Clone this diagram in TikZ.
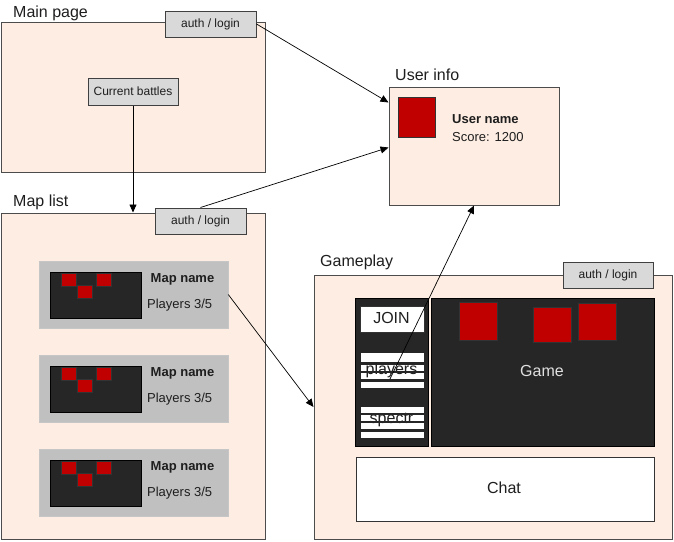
\documentclass[tikz,border=0pt]{standalone}
\usepackage{fontspec}
\setmainfont{Liberation Sans}
\usetikzlibrary{arrows.meta,calc}
\definecolor{peach}{RGB}{253,237,226}
\definecolor{authgray}{RGB}{217,217,217}
\definecolor{itemgray}{RGB}{192,192,192}
\definecolor{darkpanel}{RGB}{38,38,38}
\definecolor{redsq}{RGB}{192,0,0}
\definecolor{txt}{RGB}{30,30,30}
\begin{document}
\begin{tikzpicture}[x=1pt,y=-1pt,
  frame/.style={rectangle,draw=black!70,line width=1pt,fill=peach,inner sep=0},
  authbox/.style={rectangle,draw=black!75,line width=1pt,fill=authgray,inner sep=0,
    minimum width=91pt,minimum height=26pt,font=\fontsize{12}{14}\selectfont,text=txt},
  itembox/.style={rectangle,fill=itemgray,draw=itemgray!90!white,line width=0.5pt,inner sep=0,minimum width=189pt,minimum height=67pt},
  darkbox/.style={rectangle,fill=darkpanel,draw=black,line width=0.8pt,inner sep=0},
  redbox/.style={rectangle,fill=redsq,draw=black!80,line width=0.7pt,inner sep=0},
  whitebox/.style={rectangle,fill=white,draw=black!80,line width=0.8pt,inner sep=0},
  title/.style={anchor=base west,inner sep=0,font=\fontsize{16}{18}\selectfont,text=txt},
  small/.style={anchor=base,inner sep=0,font=\fontsize{13}{15}\selectfont,text=txt},
  big/.style={anchor=base,inner sep=0,font=\fontsize{16}{18}\selectfont,text=txt},
  arr/.style={draw=black,line width=0.7pt,-{Triangle[length=8pt,width=7pt]}}]
\useasboundingbox (0,0) rectangle (674,541);

% ---------- Main page ----------
\node[frame,minimum width=264pt,minimum height=150pt] (main) at (133,97) {};
\node[title] (maint) at (13,17) {Main page};
\node[authbox] (auth1) at (210.5,24) {auth / login};
\node[authbox,minimum width=90pt,minimum height=27pt] (cb) at (133,91.5) {Current battles};

% ---------- Map list ----------
\node[frame,minimum width=264pt,minimum height=326pt] (maplist) at (133,376) {};
\node[title] (maplistt) at (13,206.5) {Map list};
\node[authbox] (auth2) at (200.5,221) {auth / login};
\foreach \i/\dy in {1/0,2/94,3/188}{
  \node[itembox] (map\i) at (133.5,294.5+\dy) {};
  \node[darkbox,minimum width=91pt,minimum height=46pt] (mapd\i) at (95.5,295+\dy) {};
  \node[redbox,minimum width=15pt,minimum height=13pt] (mapra\i) at (69,279.5+\dy) {};
  \node[redbox,minimum width=15pt,minimum height=13pt] (maprb\i) at (103.5,279.5+\dy) {};
  \node[redbox,minimum width=15pt,minimum height=13pt] (maprc\i) at (84.5,292+\dy) {};
  \node[small,font=\fontsize{13}{15}\selectfont\bfseries] (mapn\i) at (182.5,282.7+\dy) {Map name};
  \node[small] (mapp\i) at (179.7,308.3+\dy) {Players 3/5};
}

% ---------- User info ----------
\node[frame,minimum width=170pt,minimum height=118pt] (ui) at (474,146) {};
\node[title] (uit) at (395,80.7) {User info};
\node[redbox,minimum width=37pt,minimum height=40pt] (uired) at (416.5,117) {};
\node[small,anchor=base west,font=\fontsize{13}{15}\selectfont\bfseries] (uname) at (452,123) {User name};
\node[small,anchor=base west] (uscore) at (452,141.7) {Score: 1200};

% ---------- Gameplay ----------
\node[frame,minimum width=358pt,minimum height=264pt] (gp) at (493,407) {};
\node[title] (gpt) at (320,266.5) {Gameplay};
\node[authbox,minimum width=90pt] (auth3) at (608,275) {auth / login};
\node[darkbox,minimum width=73pt,minimum height=148pt] (lpanel) at (391.5,372) {};
\node[darkbox,minimum width=223pt,minimum height=148pt] (rpanel) at (542.5,372) {};
\node[whitebox,minimum width=64pt,minimum height=26pt] (join) at (392,319) {};
\node[big] (joint) at (391.5,323.3) {JOIN};
% player / spectator lists
\foreach \a/\b [count=\k] in {352/362,364/371.5,372.5/379.5,381/388}{
  \fill[white] (360,\a) rectangle (424,\b);
}
\foreach \a/\b [count=\k] in {406/413,414.5/421,422.5/429.5,431/438}{
  \fill[white] (360,\a) rectangle (424,\b);
}
\node[big] (players) at (391.5,374.5) {players};
\node[big] (spectr) at (391.5,423.5) {spectr};
\foreach \a/\b in {352/362,364/371.5,372.5/379.5,381/388,406/413,414.5/421,422.5/429.5,431/438}{
  \draw[black!85,line width=0.7pt] (360,\a) rectangle (424,\b);
}
\node[redbox,minimum width=38pt,minimum height=38pt] (g1) at (478,321) {};
\node[redbox,minimum width=38pt,minimum height=35pt] (g2) at (552,324.5) {};
\node[redbox,minimum width=38pt,minimum height=37pt] (g3) at (597,321.5) {};
\node[big,text=white!88!black] (game) at (542,376) {Game};
\node[whitebox,minimum width=298pt,minimum height=64pt] (chat) at (505,489) {};
\node[big] (chatt) at (504,493.5) {Chat};

% ---------- connectors ----------
\coordinate (pstart) at (390,379);
\draw[arr] (auth1.east) -- ($(ui.north west)+(0,16)$);
\draw[arr] (auth2.north) -- ($(ui.north west)+(0,61)$);
\draw[arr] (cb.south) -- (maplist.north);
\draw[arr] (map1.east) -- (gp.west);
\draw[arr] (pstart) -- (ui.south);
\end{tikzpicture}
\end{document}
